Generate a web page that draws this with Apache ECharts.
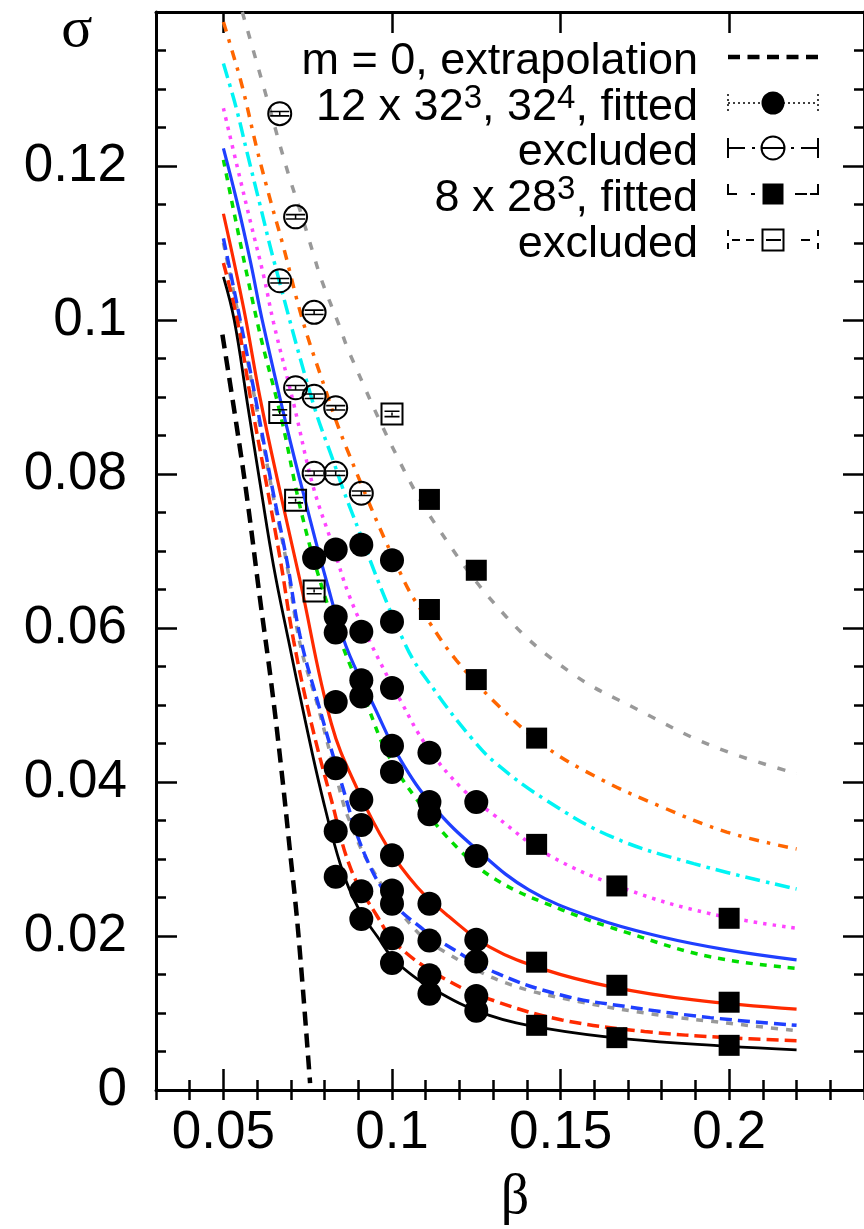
<!DOCTYPE html>
<html><head><meta charset="utf-8">
<script src="https://cdn.jsdelivr.net/npm/echarts@6/dist/echarts.min.js"></script>
<style>html,body{margin:0;padding:0;background:#fff}#c{width:864px;height:1229px}</style>
</head><body><div id="c"></div>
<script>
// ---------- data ----------
const xMajorTicks = [0.05, 0.1, 0.15, 0.2];
const yMajorTicks = [0, 0.02, 0.04, 0.06, 0.08, 0.1, 0.12];

const extrapolationM0 = [[0.0497,0.0981],[0.0541,0.0857],[0.0571,0.0766],[0.0609,0.0636],[0.0642,0.0528],[0.0671,0.0420],[0.0697,0.0312],[0.0722,0.0204],[0.0757,0.0009]];
const blackSolid = [[0.05,0.1056],[0.0532,0.1000],[0.0571,0.0892],[0.0610,0.0784],[0.0649,0.0680],[0.0693,0.0584],[0.0742,0.0481],[0.0791,0.0385],[0.0849,0.0290],[0.0898,0.0238],[0.0957,0.0199],[0.1016,0.0165],[0.1143,0.0126],[0.1289,0.0097],[0.1455,0.0080],[0.1700,0.0066],[0.1993,0.0057],[0.22,0.0052]];
const redDashed = [[0.05,0.1074],[0.0541,0.1000],[0.0585,0.0887],[0.0629,0.0784],[0.0669,0.0688],[0.0708,0.0584],[0.0761,0.0476],[0.0820,0.0377],[0.0879,0.0286],[0.0957,0.0225],[0.1016,0.0188],[0.1162,0.0143],[0.1309,0.0115],[0.1504,0.0091],[0.1749,0.0076],[0.1993,0.0068],[0.22,0.0064]];
const grayLower = [[0.05,0.1100],[0.0551,0.0992],[0.0600,0.0882],[0.0644,0.0779],[0.0688,0.0683],[0.0727,0.0580],[0.0781,0.0497],[0.0840,0.0398],[0.0869,0.0355],[0.0937,0.0290],[0.1065,0.0210],[0.1162,0.0178],[0.1338,0.0139],[0.1553,0.0115],[0.1798,0.0097],[0.1993,0.0087],[0.22,0.0077]];
const blueDashed = [[0.05,0.1106],[0.0551,0.0997],[0.0600,0.0887],[0.0644,0.0784],[0.0688,0.0688],[0.0727,0.0590],[0.0781,0.0502],[0.0849,0.0400],[0.0918,0.0307],[0.0996,0.0247],[0.1094,0.0208],[0.1162,0.0188],[0.1309,0.0152],[0.1504,0.0123],[0.1700,0.0108],[0.1944,0.0094],[0.22,0.0084]];
const redSolid = [[0.05,0.1138],[0.0561,0.1013],[0.0610,0.0896],[0.0669,0.0775],[0.0727,0.0662],[0.0820,0.0476],[0.0898,0.0390],[0.0986,0.0316],[0.1074,0.0264],[0.1167,0.0226],[0.1289,0.0186],[0.1455,0.0156],[0.1651,0.0134],[0.1895,0.0117],[0.22,0.0105]];
const greenDashed = [[0.05,0.1208],[0.0600,0.0998],[0.0673,0.0870],[0.0727,0.0758],[0.0786,0.0662],[0.0854,0.0576],[0.0928,0.0498],[0.0986,0.0437],[0.1074,0.0377],[0.1191,0.0316],[0.1309,0.0273],[0.1504,0.0234],[0.1700,0.0204],[0.1944,0.0173],[0.22,0.0158]];
const blueSolid = [[0.05,0.1223],[0.0541,0.1152],[0.0581,0.1074],[0.0615,0.1000],[0.0688,0.0861],[0.0747,0.0758],[0.0805,0.0662],[0.0864,0.0576],[0.0947,0.0498],[0.1025,0.0429],[0.1123,0.0368],[0.1250,0.0313],[0.1406,0.0260],[0.1602,0.0223],[0.1798,0.0199],[0.1993,0.0182],[0.22,0.0169]];
const magentaDotted = [[0.05,0.1275],[0.0541,0.1199],[0.0581,0.1126],[0.0620,0.1056],[0.0649,0.0996],[0.0708,0.0892],[0.0766,0.0784],[0.0825,0.0706],[0.0874,0.0641],[0.0937,0.0580],[0.1025,0.0506],[0.1104,0.0446],[0.1211,0.0390],[0.1309,0.0355],[0.1465,0.0305],[0.1700,0.0260],[0.1944,0.0229],[0.22,0.0210]];
const cyanDashDot = [[0.05,0.1333],[0.0537,0.1277],[0.0571,0.1216],[0.0610,0.1147],[0.0649,0.1078],[0.0766,0.0892],[0.0825,0.0818],[0.0874,0.0758],[0.1040,0.0578],[0.1133,0.0515],[0.1240,0.0455],[0.1309,0.0424],[0.1455,0.0377],[0.1651,0.0329],[0.1895,0.0294],[0.22,0.0261]];
const orangeDashDot = [[0.05,0.1387],[0.0522,0.1355],[0.0556,0.1303],[0.0600,0.1221],[0.0639,0.1156],[0.0678,0.1095],[0.0732,0.1004],[0.0786,0.0931],[0.0864,0.0835],[0.1035,0.0662],[0.1113,0.0606],[0.1191,0.0558],[0.1309,0.0502],[0.1455,0.0446],[0.1622,0.0403],[0.1798,0.0368],[0.1993,0.0335],[0.22,0.0313]];
const grayUpper = [[0.0556,0.1400],[0.0625,0.1294],[0.0669,0.1225],[0.0698,0.1182],[0.0727,0.1143],[0.0766,0.1087],[0.0791,0.1052],[0.0845,0.0991],[0.0874,0.0957],[0.1016,0.0822],[0.1133,0.0732],[0.1338,0.0615],[0.1534,0.0541],[0.1729,0.0494],[0.1954,0.0446],[0.22,0.0411]];

const fitted12 = [
 [0.0769,0.0691],
 [0.0833,0.0702],[0.0833,0.0615],[0.0833,0.0594],[0.0833,0.0504],[0.0833,0.0418],[0.0833,0.0336],[0.0833,0.0277],
 [0.0909,0.0708],[0.0909,0.0595],[0.0909,0.0532],[0.0909,0.0511],[0.0909,0.0377],[0.0909,0.0344],[0.0909,0.0258],[0.0909,0.0222],
 [0.1,0.0688],[0.1,0.0608],[0.1,0.0522],[0.1,0.0447],[0.1,0.0413],[0.1,0.0305],[0.1,0.0259],[0.1,0.0242],[0.1,0.0197],[0.1,0.0165],
 [0.1111,0.0438],[0.1111,0.0374],[0.1111,0.0358],[0.1111,0.0242],[0.1111,0.0194],[0.1111,0.0149],[0.1111,0.0125],
 [0.125,0.0374],[0.125,0.0304],[0.125,0.0195],[0.125,0.0167],[0.125,0.0122],[0.125,0.0103]
];
const excluded12 = [[0.0667,0.1268],[0.0667,0.1051],[0.0714,0.1134],[0.0714,0.0912],[0.0769,0.1010],[0.0769,0.0901],[0.0769,0.0801],[0.0833,0.0886],[0.0833,0.0801],[0.0909,0.0775]];
const fitted8 = [[0.1111,0.0767],[0.1111,0.0624],[0.125,0.0675],[0.125,0.0533],[0.1429,0.0457],[0.1429,0.0319],[0.1429,0.0166],[0.1429,0.0084],[0.1667,0.0265],[0.1667,0.0136],[0.1667,0.0068],[0.2,0.0223],[0.2,0.0114],[0.2,0.0058]];
const excluded8 = [[0.0667,0.0880],[0.0714,0.0766],[0.0769,0.0648],[0.1,0.0878]];

const legendLabels = [
  '{m|m = 0, extrapolation}',
  '{m|12 x 32}{s|3}{m|, 32}{s|4}{m|, fitted}',
  '{m|excluded}',
  '{m|8 x 28}{s|3}{m|, fitted}',
  '{m|excluded}'
];

// ---------- chart ----------
const chart = echarts.init(document.getElementById('c'), null, {renderer: 'canvas'});
const FONT = 'Liberation Sans, Arial, Helvetica, sans-serif';
const SERIF = 'Liberation Serif, Times New Roman, serif';

function curve(name, data, color, width, type) {
  return {type: 'line', name, data, xAxisIndex: 0, yAxisIndex: 0, smooth: 0.4,
    showSymbol: false, symbol: 'none', clip: true, silent: true, z: 2,
    lineStyle: {color, width, type, cap: 'butt', opacity: 1}, emphasis: {disabled: true}};
}
function scat(name, data, symbol, size, itemStyle, z) {
  return {type: 'scatter', name, data, xAxisIndex: 0, yAxisIndex: 0, symbol, symbolSize: size,
    itemStyle: Object.assign({opacity: 1}, itemStyle), silent: true, z: z || 3, emphasis: {disabled: true}};
}
const fmt = v => String(parseFloat(Number(v).toFixed(4)));
function xAx(pos, major) {
  const base = {type: 'value', position: pos, min: 0.03, max: 0.24, splitLine: {show: false}};
  if (major) {
    return Object.assign(base, {
      axisLine: {show: true, onZero: false, lineStyle: {color: '#000', width: 3}},
      axisTick: {show: true, inside: true, length: 21, customValues: xMajorTicks, lineStyle: {color: '#000', width: 2.5}},
      axisLabel: {show: pos === 'bottom', customValues: xMajorTicks, margin: 17, color: '#000', fontSize: 53, fontFamily: FONT, formatter: fmt}
    });
  }
  return Object.assign(base, {interval: 0.01, axisLine: {show: false},
    axisTick: {show: true, inside: true, length: 10, lineStyle: {color: '#000', width: 2.5}},
    axisLabel: {show: false}});
}
function yAx(pos, major) {
  const base = {type: 'value', position: pos, min: 0, max: 0.14, splitLine: {show: false}};
  if (major) {
    return Object.assign(base, {
      axisLine: {show: true, onZero: false, lineStyle: {color: '#000', width: 3}},
      axisTick: {show: true, inside: true, length: 21, customValues: yMajorTicks, lineStyle: {color: '#000', width: 2.5}},
      axisLabel: {show: pos === 'left', customValues: yMajorTicks, margin: 29, color: '#000', fontSize: 53, fontFamily: FONT, formatter: fmt}
    });
  }
  return Object.assign(base, {interval: 0.005, axisLine: {show: false},
    axisTick: {show: true, inside: true, length: 10, lineStyle: {color: '#000', width: 2.5}},
    axisLabel: {show: false}});
}

// legend graphics
const LY = [57, 103, 148, 194, 240];
const L1 = 728, L2 = 818, LC = 773;
const blk = '#000';
function ln(x1, y1, x2, y2, w, dash) {
  return {type: 'line', silent: true, z: 10, shape: {x1, y1, x2, y2}, style: {stroke: blk, lineWidth: w, lineDash: dash || null}};
}
const legendG = [];
legendLabels.forEach((t, i) => {
  legendG.push({type: 'text', silent: true, z: 10, x: 698, y: LY[i] + 3, style: {
    text: t, fill: blk, align: 'right', verticalAlign: 'middle', textAlign: 'right', textVerticalAlign: 'middle',
    rich: {
      m: {fontSize: 45, fontFamily: FONT, lineHeight: 48, verticalAlign: 'bottom', fill: blk, color: blk},
      s: {fontSize: 33, fontFamily: FONT, lineHeight: 30, verticalAlign: 'top', fill: blk, color: blk}
    }}});
});
// row 1
legendG.push(ln(L1, LY[0], L2, LY[0], 4.5, [12, 7.5]));
// row 2
legendG.push(ln(L1, LY[1], L2, LY[1], 1.5, [2, 3]));
legendG.push(ln(L1, LY[1]-9, L1, LY[1]+9, 1.5, [2, 3]));
legendG.push(ln(L2, LY[1]-9, L2, LY[1]+9, 1.5, [2, 3]));
legendG.push({type: 'circle', silent: true, z: 11, shape: {cx: LC, cy: LY[1], r: 11.5}, style: {fill: blk}});
// row 3
legendG.push(ln(L1, LY[2]-10, L1, LY[2]+10, 2));
legendG.push(ln(L2, LY[2]-10, L2, LY[2]+10, 2));
legendG.push(ln(L1, LY[2], 745, LY[2], 2));
legendG.push(ln(801, LY[2], L2, LY[2], 2));
legendG.push(ln(752, LY[2], 755, LY[2], 2));
legendG.push(ln(791, LY[2], 794, LY[2], 2));
legendG.push({type: 'circle', silent: true, z: 11, shape: {cx: LC, cy: LY[2], r: 11.5}, style: {fill: null, stroke: blk, lineWidth: 2}});
legendG.push(ln(762, LY[2], 784, LY[2], 2));
// row 4
legendG.push({type: 'polyline', silent: true, z: 10, shape: {points: [[L1, LY[3]-10], [L1, LY[3]], [737, LY[3]]]}, style: {stroke: blk, lineWidth: 2, fill: null}});
legendG.push(ln(751, LY[3], 755, LY[3], 2));
legendG.push({type: 'rect', silent: true, z: 11, shape: {x: LC-10.5, y: LY[3]-10.5, width: 21, height: 21}, style: {fill: blk}});
legendG.push(ln(795, LY[3], 807, LY[3], 2));
legendG.push({type: 'polyline', silent: true, z: 10, shape: {points: [[810, LY[3]], [L2, LY[3]], [L2, LY[3]-10]]}, style: {stroke: blk, lineWidth: 2, fill: null}});
// row 5
legendG.push(ln(L1, LY[4]-10, L1, LY[4]-4, 2));
legendG.push(ln(L1, LY[4]+3, L1, LY[4]+9, 2));
legendG.push(ln(732, LY[4], 740, LY[4], 2));
legendG.push(ln(746, LY[4], 754, LY[4], 2));
legendG.push({type: 'rect', silent: true, z: 11, shape: {x: LC-10.5, y: LY[4]-10.5, width: 21, height: 21}, style: {fill: null, stroke: blk, lineWidth: 2}});
legendG.push(ln(766, LY[4], 781, LY[4], 2));
legendG.push(ln(801, LY[4], 810, LY[4], 2));
legendG.push(ln(L2, LY[4]-10, L2, LY[4]-4, 2));
legendG.push(ln(L2, LY[4]+3, L2, LY[4]+9, 2));

// axis titles
legendG.push({type: 'text', silent: true, z: 10, x: 77, y: 31, style: {text: 'σ', fill: blk, fontSize: 58, fontFamily: SERIF,
  align: 'center', verticalAlign: 'middle', textAlign: 'center', textVerticalAlign: 'middle'}});
legendG.push({type: 'text', silent: true, z: 10, x: 515, y: 1198, style: {text: 'β', fill: blk, fontSize: 56, fontFamily: SERIF,
  align: 'center', verticalAlign: 'middle', textAlign: 'center', textVerticalAlign: 'middle'}});

const errPathC = 'path://M0,0H20V1.6H0Z M0,4.4H20V6H0Z M9.2,0H10.8V6H9.2Z';
const errPathS = 'path://M0,0H16V1.6H0Z M0,5.4H16V7H0Z M7.2,2H8.8V5H7.2Z';

chart.setOption({
  animation: false,
  backgroundColor: '#fff',
  grid: {left: 156, right: -8, top: 12, bottom: 139, containLabel: false},
  xAxis: [xAx('bottom', true), xAx('bottom', false), xAx('top', true), xAx('top', false)],
  yAxis: [yAx('left', true), yAx('left', false), yAx('right', true), yAx('right', false)],
  graphic: legendG,
  series: [
    curve('m = 0, extrapolation', extrapolationM0, '#000', 4.5, [14, 8]),
    curve('grayUpper', grayUpper, '#999999', 3.5, [8, 12]),
    curve('orange', orangeDashDot, '#ff6600', 3.5, [10, 8, 3.5, 8]),
    curve('cyan', cyanDashDot, '#00f4f4', 3.5, [15, 6, 3.5, 6]),
    curve('magenta', magentaDotted, '#ff44ff', 3.5, [3.5, 6]),
    curve('greenDashed', greenDashed, '#00dd00', 3.5, [7, 7]),
    curve('blueSolid', blueSolid, '#1f3fff', 3.2, 'solid'),
    curve('redSolid', redSolid, '#ff2a00', 3.2, 'solid'),
    curve('grayLower', grayLower, '#999999', 3.5, [7, 8]),
    curve('blueDashed', blueDashed, '#1f3fff', 3.5, [12, 6]),
    curve('redDashed', redDashed, '#ff2a00', 3.5, [12, 6]),
    curve('blackSolid', blackSolid, '#000', 2.8, 'solid'),
    scat('12 x 32^3, 32^4, fitted', fitted12, 'circle', 24, {color: '#000'}),
    scat('excluded 12', excluded12, 'circle', 23, {color: 'rgba(255,255,255,0)', borderColor: '#000', borderWidth: 2}),
    scat('excluded 12 err', excluded12, errPathC, [19, 6], {color: '#000'}, 4),
    scat('8 x 28^3, fitted', fitted8, 'rect', 21, {color: '#000'}),
    scat('excluded 8', excluded8, 'rect', 21, {color: 'rgba(255,255,255,0)', borderColor: '#000', borderWidth: 2}),
    scat('excluded 8 err', excluded8, errPathS, [15, 7], {color: '#000'}, 4)
  ]
});
</script></body></html>
